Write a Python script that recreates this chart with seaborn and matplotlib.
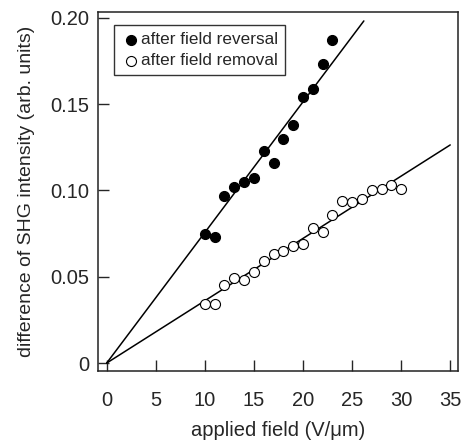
import numpy as np
import pandas as pd
import matplotlib
matplotlib.use('Agg')
import matplotlib.pyplot as plt
import seaborn as sns

# applied field (V/um)
field_rev = [10, 11, 12, 13, 14, 15, 16, 17, 18, 19, 20, 21, 22, 23]
shg_rev = [0.075, 0.073, 0.097, 0.102, 0.105, 0.107, 0.123, 0.116,
           0.130, 0.138, 0.154, 0.159, 0.173, 0.187]

field_rem = [10, 11, 12, 13, 14, 15, 16, 17, 18, 19, 20,
             21, 22, 23, 24, 25, 26, 27, 28, 29, 30]
shg_rem = [0.034, 0.034, 0.045, 0.049, 0.048, 0.053, 0.059, 0.063, 0.065,
           0.068, 0.069, 0.078, 0.076, 0.086, 0.094, 0.093, 0.095, 0.100,
           0.101, 0.103, 0.101]

labels = ['after field reversal', 'after field removal']
line_end = [26.2, 35.0]

x_ticks = [0, 5, 10, 15, 20, 25, 30, 35]
y_ticks = [0, 0.05, 0.10, 0.15, 0.20]
y_ticklabels = ['0', '0.05', '0.10', '0.15', '0.20']

sns.set_style('ticks')
plt.rcParams['font.family'] = ['Liberation Sans', 'DejaVu Sans']

fig = plt.figure(figsize=(4.66, 4.43), dpi=100)
ax = fig.add_axes([0.211, 0.1625, 0.772, 0.8115])


def fit_origin(x, y):
    x = np.asarray(x, float)
    y = np.asarray(y, float)
    return (x * y).sum() / (x * x).sum()


for xs, ys, x_end in [(field_rev, shg_rev, line_end[0]),
                      (field_rem, shg_rem, line_end[1])]:
    k = fit_origin(xs, ys)
    fit = pd.DataFrame({'x': [0, x_end], 'y': [0, k * x_end]})
    sns.lineplot(data=fit, x='x', y='y', color='black', lw=1.1, ax=ax)

sns.scatterplot(x=field_rev, y=shg_rev, color='black', edgecolor='black',
                s=52, linewidth=0.8, label=labels[0], ax=ax, zorder=3)
sns.scatterplot(x=field_rem, y=shg_rem, color='white', edgecolor='black',
                s=52, linewidth=0.8, label=labels[1], ax=ax, zorder=3)

ax.set_xlim(-0.85, 35.8)
ax.set_ylim(-0.0046, 0.2036)
ax.set_xticks(x_ticks)
ax.set_yticks(y_ticks)
ax.set_yticklabels(y_ticklabels)
ax.tick_params(direction='in', length=8, width=1, labelsize=14.5)
ax.tick_params(axis='x', pad=14.5)
ax.tick_params(axis='y', pad=6.5)
for sp in ax.spines.values():
    sp.set_linewidth(1.1)
    sp.set_color('#222222')

ax.set_xlabel('applied field (V/\u03bcm)', fontsize=14.5, labelpad=8)
ax.set_ylabel('difference of SHG intensity (arb. units)', fontsize=14, labelpad=11)

leg = ax.legend(loc='upper left', bbox_to_anchor=(0.044, 0.962), frameon=True,
                fancybox=False, edgecolor='black', fontsize=12.3,
                handletextpad=0.0, borderpad=0.4, labelspacing=0.35,
                handlelength=1.2, borderaxespad=0)
leg.get_frame().set_linewidth(1)

fig.savefig('out.png', dpi=100)
